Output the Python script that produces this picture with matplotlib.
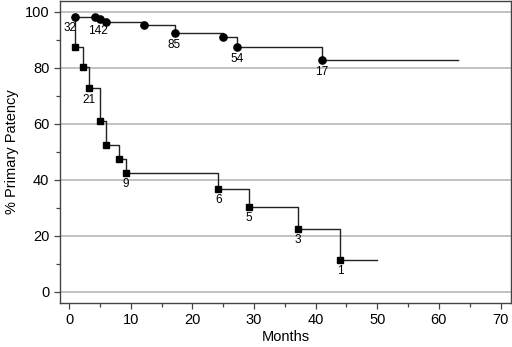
import matplotlib
matplotlib.use("Agg")
import matplotlib.pyplot as plt
from matplotlib.ticker import MultipleLocator

plt.rcParams["font.family"] = ["Liberation Sans", "DejaVu Sans"]

# Upper curve (circles): event times and patency after each drop
circ_t = [1.0, 4.2, 5.0, 6.0, 12.1, 17.1, 25.0, 27.2, 41.0]
circ_y = [98.2, 98.0, 97.3, 96.4, 95.3, 92.2, 90.9, 87.3, 82.6]
circ_end = 63.1
circ_labels = {0: "32", 2: "142", 5: "85", 7: "54", 8: "17"}

# Lower curve (squares)
sq_t = [1.0, 2.2, 3.2, 5.0, 6.0, 8.1, 9.2, 24.2, 29.2, 37.1, 44.0]
sq_y = [87.3, 80.2, 72.7, 61.0, 52.5, 47.5, 42.6, 36.8, 30.4, 22.5, 11.5]
sq_start = 98.2
sq_end = 49.9
sq_labels = {2: "21", 6: "9", 7: "6", 8: "5", 9: "3", 10: "1"}


def step_path(t, y, y0, t_end):
    xs, ys = [t[0]], [y0]
    prev = y0
    for ti, yi in zip(t, y):
        xs += [ti, ti]
        ys += [prev, yi]
        prev = yi
    xs.append(t_end)
    ys.append(prev)
    return xs, ys


fig = plt.figure(figsize=(5.12, 3.47), dpi=100)
ax = fig.add_axes([0.117, 0.128, 0.881, 0.870])

for yv in range(0, 101, 20):
    ax.axhline(yv, color="#bdbdbd", lw=1.3, zorder=0)

lc = "#222222"
xs, ys = step_path(circ_t[1:], circ_y[1:], circ_y[0], circ_end)
ax.plot([circ_t[0]] + xs, [circ_y[0]] + ys, color=lc, lw=1.0)
ax.plot(circ_t, circ_y, "o", color="black", ms=5.2, zorder=3)

xs, ys = step_path(sq_t, sq_y, sq_start, sq_end)
ax.plot(xs, ys, color=lc, lw=1.0)
ax.plot(sq_t, sq_y, "s", color="black", ms=4.6, zorder=3)

for i, s in circ_labels.items():
    dx = -0.8 if i == 0 else (-0.3 if i == 2 else 0)
    ax.annotate(s, (circ_t[i] + dx, circ_y[i]), xytext=(0, -4), textcoords="offset points",
                ha="center", va="top", fontsize=8.5)
for i, s in sq_labels.items():
    ax.annotate(s, (sq_t[i], sq_y[i]), xytext=(0, -4), textcoords="offset points",
                ha="center", va="top", fontsize=8.5)

ax.set_xlim(-1.5, 71.7)
ax.set_ylim(-3.8, 103.9)
ax.xaxis.set_major_locator(MultipleLocator(10))
ax.xaxis.set_minor_locator(MultipleLocator(5))
ax.yaxis.set_major_locator(MultipleLocator(20))
ax.yaxis.set_minor_locator(MultipleLocator(10))
ax.tick_params(which="both", direction="out", color="#444444", width=0.9, labelsize=10.5)
ax.tick_params(which="major", length=4)
ax.tick_params(which="minor", length=3)
for sp in ax.spines.values():
    sp.set_color("#444444")
    sp.set_linewidth(1.0)

ax.set_xlabel("Months", fontsize=10.5, labelpad=2)
ax.set_ylabel("% Primary Patency", fontsize=10.5, labelpad=4)

fig.savefig("out.png", dpi=100)
